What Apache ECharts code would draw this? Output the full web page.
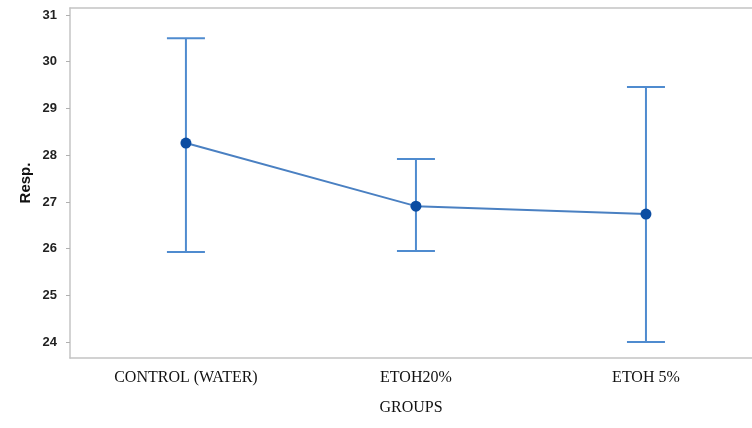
<!DOCTYPE html>
<html>
<head>
<meta charset="utf-8">
<script src="https://cdn.jsdelivr.net/npm/echarts@6/dist/echarts.min.js"></script>
<style>
html,body{margin:0;padding:0;background:#fff;overflow:hidden;}
#chart{width:752px;height:428px;}
</style>
</head>
<body>
<div id="chart"></div>
<script>
var categories = ['CONTROL (WATER)', 'ETOH20%', 'ETOH 5%'];
var means = [28.26, 26.91, 26.74];
var lower = [25.93, 25.95, 24.00];
var upper = [30.50, 27.92, 29.46];
var yTicks = [24, 25, 26, 27, 28, 29, 30, 31];

var chart = echarts.init(document.getElementById('chart'));

var lineData = means.map(function (v, i) { return [i, v]; });
var errData = means.map(function (v, i) { return [i, lower[i], upper[i]]; });

var frameLine = { color: '#c4c4c4', width: 1.5 };

chart.setOption({
  animation: false,
  backgroundColor: '#fff',
  grid: { left: 70, top: 8, right: 0, bottom: 70, show: false },
  xAxis: [{
    type: 'value',
    min: -0.504, max: 2.461,
    name: 'GROUPS',
    nameLocation: 'middle',
    nameGap: 42,
    nameMoveOverlap: false,
    nameTextStyle: { fontFamily: 'Liberation Serif', fontSize: 16, color: '#111' },
    axisLine: { show: true, onZero: false, lineStyle: frameLine },
    axisTick: { show: false },
    splitLine: { show: false },
    axisLabel: {
      margin: 12,
      fontFamily: 'Liberation Serif', fontSize: 16, color: '#111',
      showMinLabel: false, showMaxLabel: false,
      formatter: function (v) {
        var r = Math.round(v);
        if (Math.abs(v - r) < 1e-6 && r >= 0 && r < categories.length) return categories[r];
        return '';
      }
    }
  }, {
    type: 'value',
    position: 'top',
    min: -0.504, max: 2.461,
    axisLine: { show: true, onZero: false, lineStyle: frameLine },
    axisTick: { show: false },
    axisLabel: { show: false },
    splitLine: { show: false }
  }],
  yAxis: {
    type: 'value',
    min: 23.66, max: 31.15,
    splitNumber: 7,
    name: 'Resp.',
    nameLocation: 'middle',
    nameGap: 37,
    nameMoveOverlap: false,
    nameTextStyle: { fontFamily: 'Liberation Sans', fontWeight: 'bold', fontSize: 15, color: '#111' },
    axisLine: { show: true, onZero: false, lineStyle: frameLine },
    axisTick: { show: true, length: 4, lineStyle: { color: '#b0b0b0' } },
    splitLine: { show: false },
    axisLabel: {
      margin: 13,
      fontFamily: 'Liberation Sans', fontWeight: 'bold', fontSize: 13, color: '#222',
      showMinLabel: false, showMaxLabel: false,
      formatter: function (v) {
        var r = Math.round(v);
        return (Math.abs(v - r) < 1e-6 && yTicks.indexOf(r) >= 0) ? String(r) : '';
      }
    }
  },
  series: [
    {
      type: 'custom',
      data: errData,
      z: 2,
      renderItem: function (params, api) {
        var x = api.value(0);
        var lo = api.coord([x, api.value(1)]);
        var hi = api.coord([x, api.value(2)]);
        var hw = 19;
        var style = { stroke: '#4f8bcf', lineWidth: 2 };
        return {
          type: 'group',
          children: [
            { type: 'line', shape: { x1: lo[0], y1: lo[1], x2: hi[0], y2: hi[1] }, style: style },
            { type: 'line', shape: { x1: hi[0] - hw, y1: hi[1], x2: hi[0] + hw, y2: hi[1] }, style: style },
            { type: 'line', shape: { x1: lo[0] - hw, y1: lo[1], x2: lo[0] + hw, y2: lo[1] }, style: style }
          ]
        };
      }
    },
    {
      type: 'line',
      data: lineData,
      z: 3,
      symbol: 'circle',
      symbolSize: 11,
      lineStyle: { color: '#4a80c2', width: 2 },
      itemStyle: { color: '#0c4da2' }
    }
  ]
});
</script>
</body>
</html>
